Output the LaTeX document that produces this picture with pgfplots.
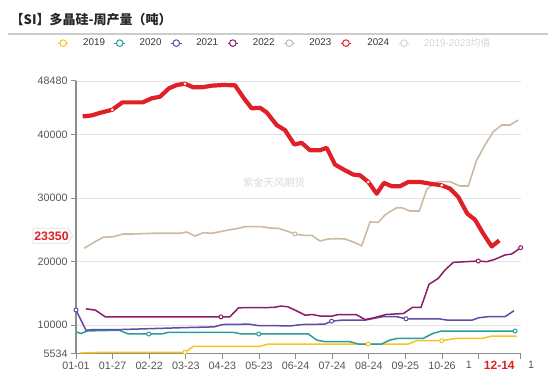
\documentclass[border=0pt]{standalone}
\usepackage{fontspec}
\setmainfont{Liberation Sans}
\newfontfamily\cjk{Noto Sans CJK SC}
\usepackage{pgfplots}
\pgfplotsset{compat=1.18}
\definecolor{c19}{HTML}{F7C31E}
\definecolor{c20}{HTML}{2B9B9B}
\definecolor{c21}{HTML}{5B4DA8}
\definecolor{c22}{HTML}{8B1C68}
\definecolor{c23}{HTML}{CBBBA5}
\definecolor{c24}{HTML}{DF2027}
\definecolor{cavg}{HTML}{D6D6D6}
\definecolor{axgray}{HTML}{8C8C8C}
\definecolor{gridc}{HTML}{E3E3E3}
\definecolor{lblc}{HTML}{555555}
\definecolor{legc}{HTML}{333333}
\begin{document}
\begin{tikzpicture}[x=1pt,y=1pt]
\useasboundingbox (0,0) rectangle (550,373);
\node[text=gray!30, font=\cjk\fontsize{10.3}{12}\selectfont] at (274,190) {紫金天风期货};
\begin{axis}[
  at={(76pt,19.5pt)}, anchor=south west,
  scale only axis, width=444.7pt, height=272.5pt,
  xmin=0, xmax=444.7, ymin=5534, ymax=48480,
  clip=false,
  scaled y ticks=false, scaled x ticks=false,
  axis lines*=left,
  axis line style={axgray, line width=1.2pt, -},
  xtick={0,36.6,73.2,109.8,146.4,183,219.6,256.2,292.8,329.4,366,402.6,444.7},
  xticklabels={01-01,01-27,02-22,03-23,04-23,05-23,06-24,07-24,08-24,09-25,10-26,{},{}},
  ytick={5534,10000,20000,30000,40000,48480},
  yticklabels={5534,10000,20000,30000,40000,48480},
  ymajorgrids, grid style={gridc, line width=0.9pt},
  tick align=outside, major tick length=5pt,
  tick style={axgray, line width=1pt},
  ticklabel style={font=\fontsize{10.7}{12}\selectfont, text=lblc},
  legend columns=-1,
  legend style={at={(0.445,1.139)}, anchor=center, draw=none, fill=none,
    font=\fontsize{9.8}{11}\selectfont, text=legc,
    /tikz/every even column/.append style={column sep=9pt},
    nodes={inner sep=0pt}},
  legend image code/.code={
    \draw[#1, line width=1pt] (0pt,0pt) -- (10.5pt,0pt);
    \draw[#1, line width=1pt, fill=white] (5.25pt,0pt) circle (3.3pt);
    \path (24.5pt,0pt);},
]
% 2019
\addplot[c19, line width=1.5pt] coordinates {
(4.7,5640) (32.8,5730) (109,5730) (117.3,6650) (184,6660) (192.3,7030)
(292.3,7030) (332.3,7030) (340.7,7550) (365.7,7550) (380.7,7930)
(407.3,7930) (415.7,8290) (440.7,8290)};
\addlegendentry{2019}
\addplot[only marks, mark=*, mark size=2pt, mark options={draw=c19, fill=white, line width=1pt}, forget plot]
coordinates {(109,5730) (292.3,7030) (365.7,7550)};
% 2020
\addplot[c20, line width=1.5pt] coordinates {
(1.2,8930) (4.7,8670) (11.7,9090) (43.3,9200) (52.3,8610) (72.7,8610)
(85.4,8610) (92.3,8870) (157.3,8870) (165.7,8610) (182.7,8610) (232.3,8610)
(240.7,7660) (249,7390) (274,7390) (282.3,7030) (305.7,7030) (314,7660)
(322.3,7930) (347.3,7930) (357.3,8720) (365.7,9080) (439,9080)};
\addlegendentry{2020}
\addplot[only marks, mark=*, mark size=2pt, mark options={draw=c20, fill=white, line width=1pt}, forget plot]
coordinates {(72.7,8610) (182.7,8610) (439,9080)};
% 2021
\addplot[c21, line width=1.5pt] coordinates {
(0,12390) (10,9200) (18.7,9310) (45,9310) (78.4,9470) (110,9620) (138,9730)
(146.8,10100) (173,10160) (182,9940) (215,9890) (225.8,10100) (248.6,10160)
(255.6,10630) (266,10790) (289,10790) (306.5,11330) (320.5,11330)
(330,11010) (362.6,11010) (371.4,10790) (396,10790) (403,11170)
(411.7,11330) (429,11330) (438,12280)};
\addlegendentry{2021}
\addplot[only marks, mark=*, mark size=2pt, mark options={draw=c21, fill=white, line width=1pt}, forget plot]
coordinates {(0,12390) (255.6,10630) (330,11010)};
% 2022
\addplot[c22, line width=1.5pt] coordinates {
(10,12580) (19.4,12370) (29.3,11310) (145,11310) (153.8,11310) (162.6,12740)
(197.7,12790) (204.7,13010) (211.7,12900) (220.5,12260) (229.3,11570)
(236.3,11680) (245,11410) (255.6,11410) (262.6,11680) (280,11680)
(289,10880) (297.7,11150) (310,11680) (327.5,11840) (336.3,12790)
(345,12790) (353,16440) (362.3,17380) (369,18690) (377.3,19900)
(402.3,20110) (410.7,20000) (419,20380) (429,21060) (435.7,21210) (444.7,22210)};
\addlegendentry{2022}
\addplot[only marks, mark=*, mark size=2pt, mark options={draw=c22, fill=white, line width=1pt}, forget plot]
coordinates {(145,11310) (402.3,20110) (444.7,22210)};
% 2023
\addplot[c23, line width=1.6pt] coordinates {
(8,22110) (19,23150) (27.3,23850) (37.3,23940) (47.3,24370) (57.3,24370)
(77.3,24480) (104,24480) (110.7,24680) (119,24050) (127.3,24570)
(135.7,24480) (144,24730) (154,25040) (160.7,25200) (169,25520)
(185.7,25520) (194,25310) (202.3,25260) (210.7,24840) (219,24370)
(227.3,24160) (235.7,24160) (244,23260) (252.3,23580) (260.7,23630)
(269,23580) (277.3,23110) (285.7,22520) (294,26260) (302.3,26210)
(309,27360) (314,27880) (320.7,28510) (325.7,28510) (334,27990)
(343.3,27990) (350.7,31410) (354,31820) (362.3,32610) (374,32610)
(384,31930) (392.3,31930) (400.7,36030) (409,38390) (417.3,40490)
(425.7,41540) (434,41540) (442.3,42330)};
\addlegendentry{2023}
\addplot[only marks, mark=*, mark size=2pt, mark options={draw=c23, fill=white, line width=1pt}, forget plot]
coordinates {(219,24370)};
% 2024
\addplot[c24, line width=4.2pt, line join=round] coordinates {
(6.7,42900) (15.7,43060) (25,43500) (36.3,43950) (46.3,45110) (56.5,45110)
(66.7,45110) (75.7,45750) (84,46000) (93,47330) (100.7,47850) (109,48050)
(117.3,47480) (125.7,47480) (135.7,47740) (147,47850) (159,47800)
(168,45740) (175.7,44170) (184,44260) (190.7,43530) (200.7,41530)
(209,40740) (218.3,38480) (225.7,38730) (234,37570) (244,37570)
(250.7,37940) (259,35310) (269,34410) (277.3,33730) (284,33620)
(292.3,32570) (300.7,30720) (308,32430) (315.7,31890) (324,31890)
(332.3,32570) (344,32570) (354,32300) (365.7,32040) (374,31520)
(382.3,30190) (391.3,27570) (399,26620) (407.3,24410) (415.7,22400) (423.3,23350)};
\addlegendentry{2024}
\addplot[only marks, mark=*, mark size=1.1pt, mark options={draw=white, fill=white}, forget plot]
coordinates {(36.3,43950) (109,48050) (292.3,32570) (365.7,32040)};
\addlegendimage{cavg, line width=1.5pt}
\addlegendentry{\textcolor{cavg}{2019-2023{\cjk 均值}}}
\end{axis}
% title and rule
\node[anchor=west, inner sep=0pt, text=black!85, font=\cjk\bfseries\fontsize{13}{15}\selectfont] at (10.5,353.5) {【SI】多晶硅-周产量（吨）};
\draw[gray!40, line width=1.5pt] (8,339) -- (548,339);
% truncated x labels and x pointer label
\node[text=lblc, font=\fontsize{10.7}{12}\selectfont, inner sep=0pt] at (468.8,7.8) {1};
\node[text=lblc, font=\fontsize{10.7}{12}\selectfont, inner sep=0pt] at (531,7.8) {1};
\node[text=c24, font=\bfseries\fontsize{12}{14}\selectfont, inner sep=0pt] at (499.3,7.5) {12-14};
% y pointer label
\filldraw[fill=white, draw=gray!25, line width=0.8pt] (33,144.7) -- (68,144.7) -- (72.5,137.2) -- (68,129.7) -- (33,129.7) -- cycle;
\node[text=c24, font=\bfseries\fontsize{12.3}{14}\selectfont] at (51.5,137.2) {23350};
\end{tikzpicture}
\end{document}
